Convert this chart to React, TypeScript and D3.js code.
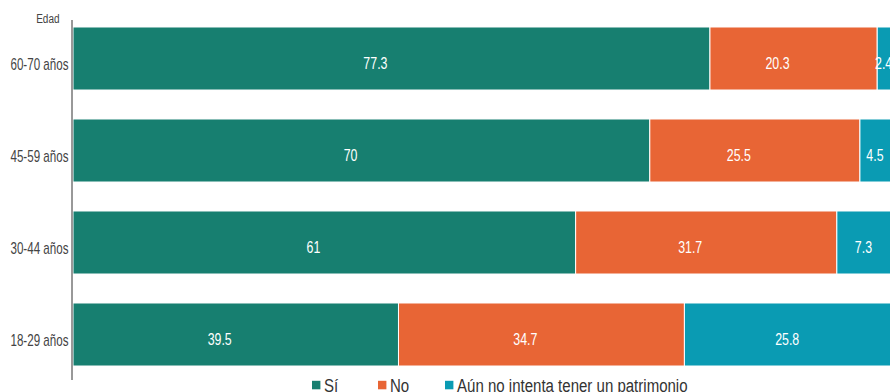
import React from "react";
import * as d3 from "d3";

const categories = ["60-70 años", "45-59 años", "30-44 años", "18-29 años"];
const seriesNames = ["Sí", "No", "Aún no intenta tener un patrimonio"];
const si = [77.3, 70, 61, 39.5];
const no = [20.3, 25.5, 31.7, 34.7];
const aun = [2.4, 4.5, 7.3, 25.8];
const colors = ["#177f70", "#e86535", "#0a9bb3"];

const W = 890;
const H = 392;
const FONT = "'Liberation Sans', Arial, sans-serif";

function CText(props: {
  x: number;
  y: number;
  sx: number;
  size: number;
  anchor?: string;
  fill: string;
  children: React.ReactNode;
}) {
  const { x, y, sx, size, anchor, fill, children } = props;
  return (
    <text
      transform={`translate(${x},${y}) scale(${sx},1)`}
      textAnchor={anchor || "start"}
      fontSize={size}
      fill={fill}
    >
      {children}
    </text>
  );
}

export default function App() {
  const x = d3.scaleLinear().domain([0, 100]).range([73, 897]);
  const y = d3
    .scaleBand<string>()
    .domain(categories)
    .range([12.5, 380.5])
    .paddingInner(0.315)
    .paddingOuter(0.1575);
  const rows = categories.map((c, i) => ({ cat: c, vals: [si[i], no[i], aun[i]] }));
  const stack = d3.stack<any>().keys(["0", "1", "2"]).value((d, k) => d.vals[+k]);
  const series = stack(rows);

  const legendX = [312, 378, 445];

  return (
    <svg
      width={W}
      height={H}
      style={{ position: "absolute", left: 0, top: 0, overflow: "hidden" }}
      fontFamily={FONT}
    >
      <rect x={0} y={0} width={W} height={H} fill="#fff" />
      {series.map((s, k) =>
        s.map((d, i) => {
          const x0 = x(d[0]);
          const x1 = x(d[1]);
          const yy = y(categories[i])!;
          const cy = yy + y.bandwidth() / 2;
          const last = k === series.length - 1;
          const lx = last ? (x0 + Math.min(x1, W)) / 2 : (x0 + x1) / 2 - 4;
          return (
            <g key={k + "-" + i}>
              <rect
                x={x0}
                y={yy}
                width={x1 - x0}
                height={y.bandwidth()}
                fill={colors[k]}
                stroke="#fff"
                strokeWidth={1}
              />
              <CText x={lx} y={cy + 10.8} sx={0.76} size={16.3} anchor={last ? "middle" : "end"} fill="#fff">
                {rows[i].vals[k]}
              </CText>
            </g>
          );
        })
      )}
      <line x1={72} x2={72} y1={20} y2={380} stroke="#333" strokeWidth={1} />
      <CText x={59.5} y={22.7} sx={0.73} size={13.7} anchor="end" fill="#444">
        Edad
      </CText>
      {categories.map((c) => (
        <CText key={c} x={68.5} y={y(c)! + y.bandwidth() / 2 + 11.5} sx={0.725} size={16} anchor="end" fill="#444">
          {c}
        </CText>
      ))}
      {seriesNames.map((n, i) => (
        <g key={n}>
          <rect x={legendX[i]} y={380.8} width={8.4} height={8.5} fill={colors[i]} />
          <CText x={legendX[i] + 12} y={391.6} sx={0.835} size={18} fill="#333">
            {n}
          </CText>
        </g>
      ))}
    </svg>
  );
}
